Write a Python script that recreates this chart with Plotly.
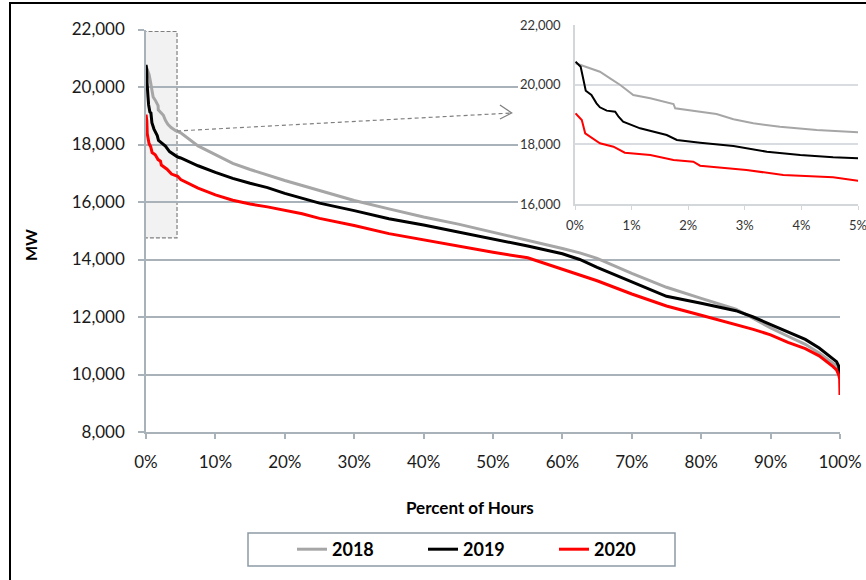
import plotly.graph_objects as go

# ---------------- data ----------------
years = ["2018", "2019", "2020"]

pct_2018 = [0.01, 0.44, 0.62, 0.80, 1.03, 1.33, 1.74, 1.77, 2.21, 2.50, 2.80, 3.15, 3.62, 4.27, 5.0,
            7.5, 10, 12.5, 15, 17.5, 20, 22.5, 25, 30, 35, 40, 45, 50, 55, 60, 62.5, 65, 70, 75,
            80, 85, 87.5, 90, 92.5, 95, 97, 99, 99.5, 99.8, 100]
mw_2018 = [20716, 20435, 20213, 19989, 19654, 19543, 19352, 19207, 19095, 19017, 18839, 18705, 18591, 18480, 18403,
           17950, 17650, 17345, 17130, 16935, 16750, 16575, 16400, 16050, 15760, 15480, 15230, 14950, 14680, 14380, 14230, 14040, 13520, 13033,
           12650, 12270, 11950, 11620, 11330, 11050, 10750, 10410, 10300, 10180, 9950]

pct_2019 = [0.01, 0.10, 0.15, 0.19, 0.29, 0.38, 0.44, 0.56, 0.71, 0.77, 0.85, 1.15, 1.62, 1.80, 2.21, 2.80, 3.39, 3.98, 4.56, 5.0,
            7.5, 10, 12.5, 15, 17.5, 20, 22.5, 25, 30, 35, 40, 45, 50, 55, 60, 62.5, 65, 70, 75,
            80, 85, 87.5, 90, 92.5, 95, 97, 99, 99.5, 99.8, 99.95, 100]
mw_2019 = [20770, 20603, 20156, 19798, 19654, 19375, 19241, 19130, 19095, 18926, 18759, 18537, 18313, 18145, 18055, 17944, 17753, 17642, 17565, 17531,
           17260, 17030, 16820, 16650, 16500, 16300, 16120, 15960, 15700, 15420, 15200, 14960, 14720, 14470, 14200, 14000, 13730, 13220, 12720,
           12480, 12220, 12000, 11740, 11480, 11220, 10920, 10560, 10446, 10300, 10050, 9924]

pct_2020 = [0.01, 0.12, 0.18, 0.29, 0.44, 0.68, 0.88, 1.33, 1.74, 2.09, 2.21, 3.03, 3.68, 4.56, 5.0,
            7.5, 10, 12.5, 15, 17.5, 20, 22.5, 25, 30, 35, 40, 45, 50, 55, 60, 65, 70, 75,
            80, 85, 87.5, 90, 92.5, 95, 97, 99, 99.5, 99.8, 99.95, 100]
mw_2020 = [19040, 18816, 18370, 18236, 18035, 17922, 17720, 17642, 17475, 17418, 17285, 17140, 16972, 16894, 16782,
           16480, 16250, 16060, 15930, 15830, 15710, 15590, 15430, 15180, 14900, 14680, 14450, 14250, 14060, 13660, 13260, 12800, 12383,
           12060, 11740, 11570, 11380, 11120, 10900, 10650, 10272, 10157, 10000, 9850, 9287]

series = {"2018": (pct_2018, mw_2018), "2019": (pct_2019, mw_2019), "2020": (pct_2020, mw_2020)}
colors = {"2018": "#a6a6a6", "2019": "#000000", "2020": "#ff0000"}

main_y_ticks = [8000, 10000, 12000, 14000, 16000, 18000, 20000, 22000]
main_x_ticks = list(range(0, 101, 10))
inset_y_ticks = [16000, 18000, 20000, 22000]
inset_x_ticks = [0, 1, 2, 3, 4, 5]

# zoom window highlighted on the main chart
zoom_x = (-0.3, 4.47)
zoom_y = (14750, 21930)
arrow_from = (4.47, 18470)
arrow_to = (52.7, 19096)

# ---------------- layout geometry (pixels) ----------------
W, H = 866, 580
ML, MR, MT, MB = 146, 6, 12, 148
PW = W - ML - MR
PH = H - MT - MB


def fx(p):
    return (p - ML) / PW


def fy(p):
    return (H - MB - p) / PH


FONT = "Lato"
TXT = "#1a1a1a"
GRID = "#a9b1b9"

fig = go.Figure()

for yr in years:
    x, y = series[yr]
    fig.add_trace(go.Scatter(x=x, y=y, mode="lines", name=yr,
                             line=dict(color=colors[yr], width=3),
                             xaxis="x", yaxis="y"))

# blank white panel behind the inset (covers the main grid lines)
fig.add_trace(go.Scatter(x=[], y=[], xaxis="x2", yaxis="y2", showlegend=False, hoverinfo="skip"))

for yr in years:
    x, y = series[yr]
    fig.add_trace(go.Scatter(x=x, y=y, mode="lines", name=yr, showlegend=False,
                             line=dict(color=colors[yr], width=2),
                             xaxis="x3", yaxis="y3"))

fig.update_layout(
    width=W, height=H,
    margin=dict(l=ML, r=MR, t=MT, b=MB, autoexpand=False),
    paper_bgcolor="white", plot_bgcolor="white",
    font=dict(family=FONT, color=TXT, size=17),
    xaxis=dict(domain=[0, fx(840)], anchor="y", range=[0, 100], tickvals=main_x_ticks,
               ticktext=[f"{v}%" for v in main_x_ticks], showgrid=False, zeroline=False,
               showline=True, linecolor=GRID, linewidth=1.5, ticks="outside", ticklen=5,
               tickcolor=GRID, tickwidth=1.5, tickfont=dict(size=17, color=TXT),
               ticklabelstandoff=9, ticklabeloverflow="allow"),
    yaxis=dict(domain=[0, fy(29.5)], anchor="x", range=[8000, 22000], tickvals=main_y_ticks,
               tickformat=",d", showgrid=True, gridcolor=GRID, gridwidth=1.5, zeroline=False,
               showline=True, linecolor=GRID, linewidth=1.5, ticks="outside", ticklen=6,
               tickcolor=GRID, tickwidth=1.5, tickfont=dict(size=17, color=TXT),
               ticklabelstandoff=10),
    xaxis2=dict(domain=[fx(518), 1], anchor="y2", range=[0, 1], showgrid=False, zeroline=False,
                showline=False, showticklabels=False, ticks="", fixedrange=True),
    yaxis2=dict(domain=[fy(232), fy(14)], anchor="x2", range=[0, 1], showgrid=False, zeroline=False,
                showline=False, showticklabels=False, ticks="", fixedrange=True),
    xaxis3=dict(domain=[fx(575), fx(858)], anchor="y3", range=[0, 5], tickvals=inset_x_ticks,
                ticktext=[f"{v}%" for v in inset_x_ticks], showgrid=False, zeroline=False,
                showline=True, linecolor="#d4d7da", linewidth=1.5, ticks="outside", ticklen=4,
                tickcolor="#d4d7da", tickfont=dict(size=13, color="#333333"), ticklabelstandoff=5,
                ticklabeloverflow="allow"),
    yaxis3=dict(domain=[fy(204), fy(25)], anchor="x3", range=[16000, 22000], tickvals=inset_y_ticks,
                tickformat=",d", showgrid=True, gridcolor="#d9dde2", gridwidth=1.5, zeroline=False,
                showline=True, linecolor="#d4d7da", linewidth=1.5, ticks="",
                tickfont=dict(size=13, color="#333333"), ticklabelstandoff=10),
    showlegend=True,
    legend=dict(orientation="h", x=fx(292), xanchor="left", y=fy(549.5), yanchor="middle",
                entrywidth=86, entrywidthmode="pixels", bgcolor="rgba(0,0,0,0)", borderwidth=0,
                font=dict(family=FONT, size=18, color="#000000", weight="bold"),
                traceorder="normal"),
)

shapes = [
    # outer frame
    dict(type="rect", xref="paper", yref="paper", x0=fx(10), y0=fy(3), x1=fx(900), y1=fy(640),
         line=dict(color="#000000", width=2), fillcolor="rgba(0,0,0,0)", layer="above"),
    # highlighted zoom window
    dict(type="rect", xref="x", yref="y", x0=zoom_x[0], x1=zoom_x[1], y0=zoom_y[0], y1=zoom_y[1],
         fillcolor="#f2f2f2", line=dict(color="#7f7f7f", width=1.2, dash="4px,2px"), layer="below"),
    # dashed arrow to the inset
    dict(type="line", xref="x", yref="y", x0=arrow_from[0], y0=arrow_from[1], x1=arrow_to[0], y1=arrow_to[1],
         line=dict(color="#7f7f7f", width=1.2, dash="4px,3px"), layer="above"),
    dict(type="path", xref="x", yref="y",
         path=f"M {arrow_to[0]-1.7},{arrow_to[1]+280} L {arrow_to[0]},{arrow_to[1]} L {arrow_to[0]-1.7},{arrow_to[1]-210}",
         line=dict(color="#7f7f7f", width=1.2), layer="above"),
    # legend box
    dict(type="rect", xref="paper", yref="paper", x0=fx(248), x1=fx(675), y0=fy(533), y1=fy(566),
         line=dict(color="#8c9aa6", width=1.5), fillcolor="rgba(0,0,0,0)", layer="above"),
]
fig.update_layout(shapes=shapes)

fig.add_annotation(text="MW", xref="paper", yref="paper", x=fx(30), y=fy(245), textangle=-90,
                   showarrow=False, xanchor="center", yanchor="middle",
                   font=dict(family=FONT, size=16, color="#000000", weight="bold"))
fig.add_annotation(text="Percent of Hours", xref="paper", yref="paper", x=fx(470), y=fy(507),
                   showarrow=False, xanchor="center", yanchor="middle",
                   font=dict(family=FONT, size=17, color="#000000", weight="bold"))

fig.write_html("out.html")
